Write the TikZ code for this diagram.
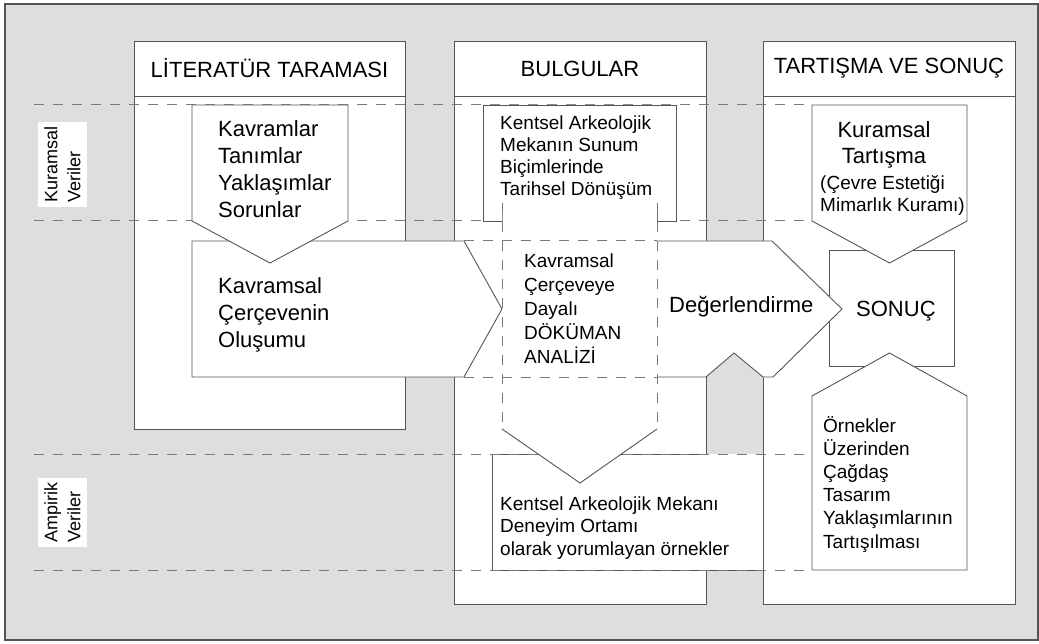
\documentclass[tikz,border=0pt]{standalone}
\usepackage{fontspec}
\setmainfont{Liberation Sans}
\usepackage{tikz}
\tikzset{>=latex}
\definecolor{frame gray}{HTML}{DEDEDE}
\definecolor{edge gray}{HTML}{555555}
\definecolor{guide gray}{HTML}{7A7A7A}
\tikzset{
    box/.style={fill=white, draw=edge gray, line width=0.9pt},
    edge/.style={draw=edge gray, line width=0.9pt},
    guide/.style={draw=guide gray, line width=1pt, dash pattern=on 10pt off 9pt},
    big/.style={font=\fontsize{22}{27}\selectfont},
    small/.style={font=\fontsize{19}{22.5}\selectfont},
    txt/.style={anchor=north west, align=left, inner sep=0pt},
    lbl/.style={rotate=90, fill=white, inner sep=0pt, align=left, minimum height=49pt, font=\fontsize{18}{23}\selectfont}
}

\begin{document}
\begin{tikzpicture}[x=1pt, y=-1pt]
        \useasboundingbox (0,0) rectangle (1039,644);
        \fill[frame gray] (5,4) rectangle (1038,640);
        \draw[edge gray, line width=1.2pt] (5,4) rectangle (1038,640);
        \foreach \l/\r/\b in {134/405/429, 454/706/604, 763/1015/604} {
            \draw[box] (\l,41) rectangle (\r,\b);
            \draw[edge] (\l,96) -- (\r,96);
        }
        \node (lit) [big] at (269.5,68.5) {LİTERATÜR TARAMASI};
        \node (bul) [big] at (580,68.5) {BULGULAR};
        \node (tar) [big] at (889,68.5) {TARTIŞMA VE SONUÇ};
        \fill[white] (492,454) rectangle (763,570);
        \draw[edge] (706,454) -- (492,454) -- (492,570) -- (763,570);
        \foreach \y in {105, 221, 454, 570} {
            \draw[guide] (34,\y) -- (812,\y);
        }
        \node (kurv) [lbl, minimum width=85pt] at (62.5,164.5) {Kuramsal\\Veriler};
        \node (ampv) [lbl, minimum width=69pt] at (62.5,512.5) {Ampirik\\Veriler};
        \draw[box] (192,241) -- (464,241) -- (502,309) -- (464,377) -- (192,377) -- cycle;
        \draw[box] (192,105) -- (348,105) -- (348,221) -- (270,263) -- (192,221) -- cycle;
        \draw[box] (483,105) -- (676,105) -- (676,221) -- (657,221) -- (657,203) -- (502,203) -- (502,221) -- (483,221) -- cycle;
        \draw[box] (829,250) rectangle (954,366);
        \fill[white] (502.5,203) -- (657,203) -- (657,429) -- (580,483) -- (502.5,429) -- cycle;
        \fill[white] (502.5,241) -- (772,241) -- (842,309) -- (773,377) -- (763,377) -- (734,353) -- (706,377) -- (502.5,377) -- cycle;
        \draw[edge] (657,241) -- (772,241) -- (842,309) -- (773,377) -- (763,377) -- (734,353) -- (706,377) -- (657,377);
        \draw[guide] (464,241) -- (657,241);
        \draw[guide] (464,377) -- (657,377);
        \draw[guide] (502,203) -- (502,429);
        \draw[guide] (657,203) -- (657,429);
        \draw[edge] (502,429) -- (580,483) -- (657,429);
        \draw[box] (812,105) -- (967,105) -- (967,221) -- (889.5,263) -- (812,221) -- cycle;
        \draw[box] (812,570) -- (812,396) -- (889.5,353) -- (967,396) -- (967,570) -- cycle;
        \node (kav) [txt, big] at (218,120) {Kavramlar\\Tanımlar\\Yaklaşımlar\\Sorunlar};
        \node (cer) [txt, big] at (218,277) {Kavramsal\\Çerçevenin\\Oluşumu};
        \node (ken) [txt, small, font=\fontsize{19}{22}\selectfont] at (500,115.4) {Kentsel Arkeolojik\\Mekanın Sunum\\Biçimlerinde\\Tarihsel Dönüşüm};
        \node (dok) [txt, font=\fontsize{19}{24}\selectfont] at (524,253.4) {Kavramsal\\Çerçeveye\\Dayalı\\DÖKÜMAN\\ANALİZİ};
        \node (deg) [big, anchor=base west, inner sep=0pt] at (669,313) {Değerlendirme};
        \node (son) [big, anchor=base west, inner sep=0pt] at (856,317) {SONUÇ};
        \node (kur) [big, anchor=north, align=center, inner sep=0pt, font=\fontsize{22}{26}\selectfont] at (884,121) {Kuramsal\\Tartışma};
        \node (kurn) [txt, font=\fontsize{19}{22}\selectfont] at (820,175) {(Çevre Estetiği\\Mimarlık Kuramı)};
        \node (den) [txt, small] at (500,496.4) {Kentsel Arkeolojik Mekanı\\Deneyim Ortamı\\olarak yorumlayan örnekler};
        \node (orn) [txt, font=\fontsize{19}{23.2}\selectfont] at (823,416) {Örnekler\\Üzerinden\\Çağdaş\\Tasarım\\Yaklaşımlarının\\Tartışılması};
    \end{tikzpicture}
\end{document}
